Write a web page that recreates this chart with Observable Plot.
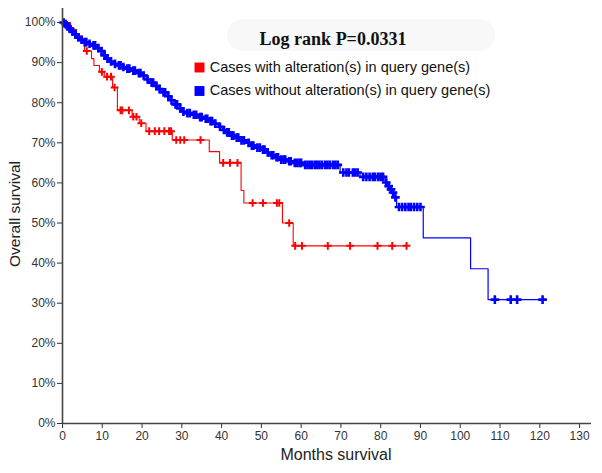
<!DOCTYPE html>
<html><head><meta charset="utf-8">
<script src="https://cdn.jsdelivr.net/npm/d3@7"></script>
<script src="https://cdn.jsdelivr.net/npm/@observablehq/plot@0.6"></script>
<style>
body{margin:0;background:#fff;}
#wrap{position:relative;width:602px;height:473px;}
#titlebox{position:absolute;left:227px;top:19px;width:268px;height:32px;background:#f8f8f8;border-radius:16px;}
#chart{position:absolute;left:0;top:0;}
</style></head><body>
<div id="wrap"><div id="titlebox"></div><div id="chart"></div></div>
<script>
const title = "Log rank P=0.0331";
const seriesNames = ["Cases with alteration(s) in query gene(s)", "Cases without alteration(s) in query gene(s)"];
const seriesColors = ["#ff0000", "#0000ff"];
const xLabel = "Months survival";
const yLabel = "Overall survival";
const xTicks = [0,10,20,30,40,50,60,70,80,90,100,110,120,130];
const yTicks = [0,0.1,0.2,0.3,0.4,0.5,0.6,0.7,0.8,0.9,1.0];

// Cases with alteration(s): step points (months, survival)
const redTimes = [0, 2.0, 3.5, 5.0, 5.5, 7.3, 7.9, 9.3, 10.5, 12.6, 13.8, 17.5, 19.3, 21.0, 27.6, 36.9, 39.5, 44.9, 45.6, 55.3, 58.0, 86.5];
const redSurv  = [1.0, 0.983, 0.966, 0.948, 0.929, 0.910, 0.893, 0.877, 0.865, 0.838, 0.781, 0.765, 0.749, 0.729, 0.707, 0.678, 0.650, 0.581, 0.550, 0.500, 0.443, 0.443];
const redCensor = [6.1, 9.9, 11.2, 12.2, 13.1, 14.6, 15.0, 16.7, 17.8, 18.6, 19.8, 21.8, 23.2, 24.3, 25.6, 26.8, 27.3, 28.6, 29.6, 30.6, 34.7, 40.4, 42.1, 44.0, 47.8, 50.4, 53.9, 54.5, 57.0, 58.5, 60.2, 66.7, 72.3, 79.2, 82.9, 86.5];

// Cases without alteration(s)
const blueTimes = [0, 0.5, 1.0, 1.5, 2.2, 3.0, 3.8, 4.5, 5.3, 6.3, 7.4, 8.5, 9.5, 10.3, 10.9, 11.8, 12.8, 13.8, 14.9, 16.0, 17.4, 18.6, 19.9, 21.0, 22.0, 23.0, 24.0, 25.0, 26.0, 27.0, 28.0, 29.0, 30.0, 31.0, 32.5, 34.2, 35.5, 36.7, 38.0, 39.2, 40.2, 41.0, 42.1, 43.4, 44.6, 46.3, 47.2, 48.5, 50.1, 51.0, 52.2, 53.4, 54.7, 56.4, 58.0, 60.6, 69.8, 74.8, 81.1, 81.8, 82.3, 82.9, 83.4, 84.0, 90.7, 102.6, 107.0, 120.7];
const blueSurv  = [1.0, 0.996, 0.990, 0.984, 0.978, 0.970, 0.963, 0.957, 0.951, 0.947, 0.943, 0.936, 0.929, 0.918, 0.910, 0.903, 0.897, 0.893, 0.889, 0.885, 0.880, 0.874, 0.868, 0.858, 0.850, 0.842, 0.834, 0.826, 0.816, 0.806, 0.796, 0.786, 0.778, 0.774, 0.770, 0.764, 0.760, 0.754, 0.748, 0.740, 0.732, 0.726, 0.718, 0.713, 0.706, 0.700, 0.693, 0.688, 0.683, 0.676, 0.669, 0.664, 0.658, 0.654, 0.650, 0.645, 0.626, 0.615, 0.601, 0.592, 0.584, 0.576, 0.564, 0.540, 0.463, 0.386, 0.309, 0.309];
const blueCensor = [0.3,0.8,1.3,1.9,2.5,3.3,4.0,4.8,5.6,6.0,6.8,7.8,8.2,9.0,9.8,10.6,11.3,12.2,13.2,14.2,14.6,15.3,16.3,16.8,17.8,18.2,19.2,19.6,20.4,21.4,22.4,22.8,23.6,24.4,25.4,25.8,26.6,27.4,28.4,28.8,29.6,30.4,31.4,32.0,33.0,33.6,34.6,35.0,36.0,36.4,37.2,37.6,38.4,39.6,40.6,41.4,41.8,42.6,43.0,43.8,44.2,45.0,45.6,46.8,47.6,48.0,49.0,49.6,50.4,50.8,51.6,52.6,53.0,53.8,54.2,55.0,55.6,56.0,57.0,57.4,58.4,59.0,59.6,60.0,61.0,61.6,62.2,62.8,63.5,64.0,64.6,65.2,66.0,66.6,67.2,68.0,68.6,69.2,70.6,71.4,72.0,73.0,73.6,74.2,75.6,76.4,77.2,78.0,78.6,79.4,80.0,80.6,81.4,82.0,82.6,83.1,83.7,84.6,85.4,86.2,87.0,87.6,88.4,89.2,90.0,108.7,112.7,114.3,120.7];

function stepAt(times, survs, t) {
  const i = Math.max(0, d3.bisectRight(times, t) - 1);
  return survs[i];
}
const redSteps = redTimes.map((t, i) => ({t, s: redSurv[i]}));
const blueSteps = blueTimes.map((t, i) => ({t, s: blueSurv[i]}));
const redMarks = redCensor.map(t => ({t, s: stepAt(redTimes, redSurv, t)}));
const blueMarks = blueCensor.map(t => ({t, s: stepAt(blueTimes, blueSurv, t)}));

const sans = "'Liberation Sans', Arial, sans-serif";
const chart = Plot.plot({
  width: 602, height: 473,
  marginLeft: 62, marginRight: 11, marginTop: 8, marginBottom: 50,
  style: {fontFamily: sans, fontSize: "12px", color: "#333", background: "transparent"},
  x: {domain: [0, 133], ticks: xTicks, tickSize: 5, tickPadding: 3, label: null, tickFormat: d => String(d)},
  y: {domain: [0, 1.035], ticks: yTicks, tickSize: 5, tickPadding: 2, label: null, tickFormat: d => Math.round(d * 100) + "%"},
  marks: [
    Plot.line(redSteps, {x: "t", y: "s", curve: "step-after", stroke: seriesColors[0], strokeWidth: 1.1}),
    Plot.dot(redMarks, {x: "t", y: "s", symbol: "plus", r: 2.6, stroke: seriesColors[0], strokeWidth: 2}),
    Plot.line(blueSteps, {x: "t", y: "s", curve: "step-after", stroke: seriesColors[1], strokeWidth: 1.2}),
    Plot.dot(blueMarks, {x: "t", y: "s", symbol: "plus", r: 2.9, stroke: seriesColors[1], strokeWidth: 2.6}),
    Plot.ruleX([0], {stroke: "#444", strokeWidth: 1.6}),
    Plot.ruleY([0], {stroke: "#444", strokeWidth: 1.6}),
    Plot.text([title], {frameAnchor: "top-left", dx: 270.5, dy: 31.2, textAnchor: "middle", lineAnchor: "middle", fontFamily: "'Liberation Serif', 'Times New Roman', serif", fontWeight: "bold", fontSize: 18, fill: "#111"}),
    Plot.dot([seriesNames[0]], {frameAnchor: "top-left", dx: 137, dy: 59, symbol: "square", r: 5.6, fill: seriesColors[0]}),
    Plot.dot([seriesNames[1]], {frameAnchor: "top-left", dx: 137, dy: 82.5, symbol: "square", r: 5.6, fill: seriesColors[1]}),
    Plot.text([seriesNames[0]], {frameAnchor: "top-left", dx: 147.3, dy: 59, textAnchor: "start", lineAnchor: "middle", fontSize: 14.5, fill: "#111"}),
    Plot.text([seriesNames[1]], {frameAnchor: "top-left", dx: 147.3, dy: 82.3, textAnchor: "start", lineAnchor: "middle", fontSize: 14.5, fill: "#111"}),
    Plot.text([xLabel], {frameAnchor: "bottom", dx: 9, dy: 31, textAnchor: "middle", lineAnchor: "middle", fontSize: 16, fill: "#222"}),
    Plot.text([yLabel], {frameAnchor: "left", dx: -47.5, dy: -2, rotate: -90, textAnchor: "middle", lineAnchor: "middle", fontSize: 15.5, fill: "#222"})
  ]
});
document.getElementById("chart").appendChild(chart);
</script></body></html>
